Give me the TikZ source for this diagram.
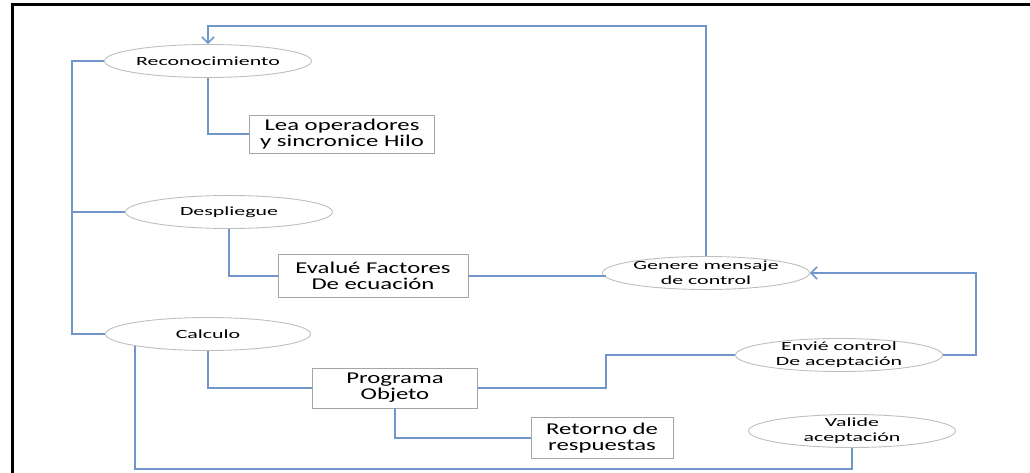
\documentclass[tikz,border=0pt]{standalone}
\usepackage{fontspec}
\newfontfamily\ovalfont[FakeStretch=1.75]{Carlito}
\newfontfamily\boxfont[FakeStretch=1.5]{Carlito}
\usepackage{tikz}
\usetikzlibrary{positioning,arrows.meta,shapes.geometric}
\usepackage{xcolor}
\definecolor{linkblue}{RGB}{112,150,204}
\definecolor{ovalgray}{RGB}{190,190,190}
\definecolor{boxgray}{RGB}{165,165,165}

\begin{document}
\begin{tikzpicture}[x=1pt, y=-1pt,
    oval/.style={ellipse, draw=ovalgray, line width=0.9pt, align=center,
        inner xsep=0pt, inner ysep=-3pt, minimum width=207pt, minimum height=33pt,
        font=\ovalfont\fontsize{12.5}{15}\selectfont},
    task/.style={rectangle, draw=boxgray, line width=0.9pt, align=center,
        inner sep=0pt, font=\boxfont\fontsize{16.5}{16}\selectfont},
    link/.style={draw=linkblue, line width=1.5pt},
    tip/.style={-{Straight Barb[length=6pt, width=12pt]}}]
    \useasboundingbox (0,0) rectangle (1030,473);
    % --- outer frame ---
    \draw[line width=3pt, line cap=rect] (1030,5) -- (12,5) -- (12,473);

    % --- stages on the left ---
    \node[oval] (recon) at (208,61) {Reconocimiento};
    \node[oval] (despl) at (229,212) {Despliegue};
    \node[oval, minimum width=205pt] (calc) at (208,334) {Calculo};

    % --- task boxes ---
    \node[task, minimum width=185pt, minimum height=38pt] (lea) at (342,134)
        {Lea operadores\\y sincronice Hilo};
    \node[task, minimum width=190pt, minimum height=43pt] (evalue) at (373,276)
        {Evalué Factores\\De ecuación};
    \node[task, minimum width=165pt, minimum height=40pt] (prog) at (395,388)
        {Programa\\Objeto};
    \node[task, minimum width=142pt, minimum height=41pt] (retorno) at (602,438)
        {Retorno de\\respuestas};

    % --- control stages on the right ---
    \node[oval] (genere) at (706,273) {Genere mensaje\\de control};
    \node[oval] (envie) at (839,355) {Envié control\\De aceptación};
    \node[oval] (valide) at (852,431) {Valide\\aceptación};

    % helper points for the long runs
    \coordinate (spine) at (72,61);
    \coordinate (top) at (400,26);
    \coordinate (bottom) at (500,469);

    % --- connectors ---
    \draw[link] (recon.west) -- (recon.west -| spine) |- (calc.west);
    \draw[link] (despl.west) -- (despl.west -| spine);
    \draw[link] (recon.south) |- (lea.west);
    \draw[link] (despl.south) |- (evalue.west);
    \draw[link] (evalue.east) -- ([xshift=4pt]genere.west |- evalue.east);
    \draw[link, tip] (genere.north) |- (top) -| (recon.north);
    \draw[link, tip] (envie.east) -- ++(33,0) |- (genere.east);
    \draw[link] (envie.west) -- ++(-129,0) |- (prog.east);
    \draw[link] (calc.south) |- (prog.west);
    \draw[link] (prog.south) |- (retorno.west);
    \draw[link] (calc.south west) |- (bottom) -| (valide.south);
\end{tikzpicture}
\end{document}
